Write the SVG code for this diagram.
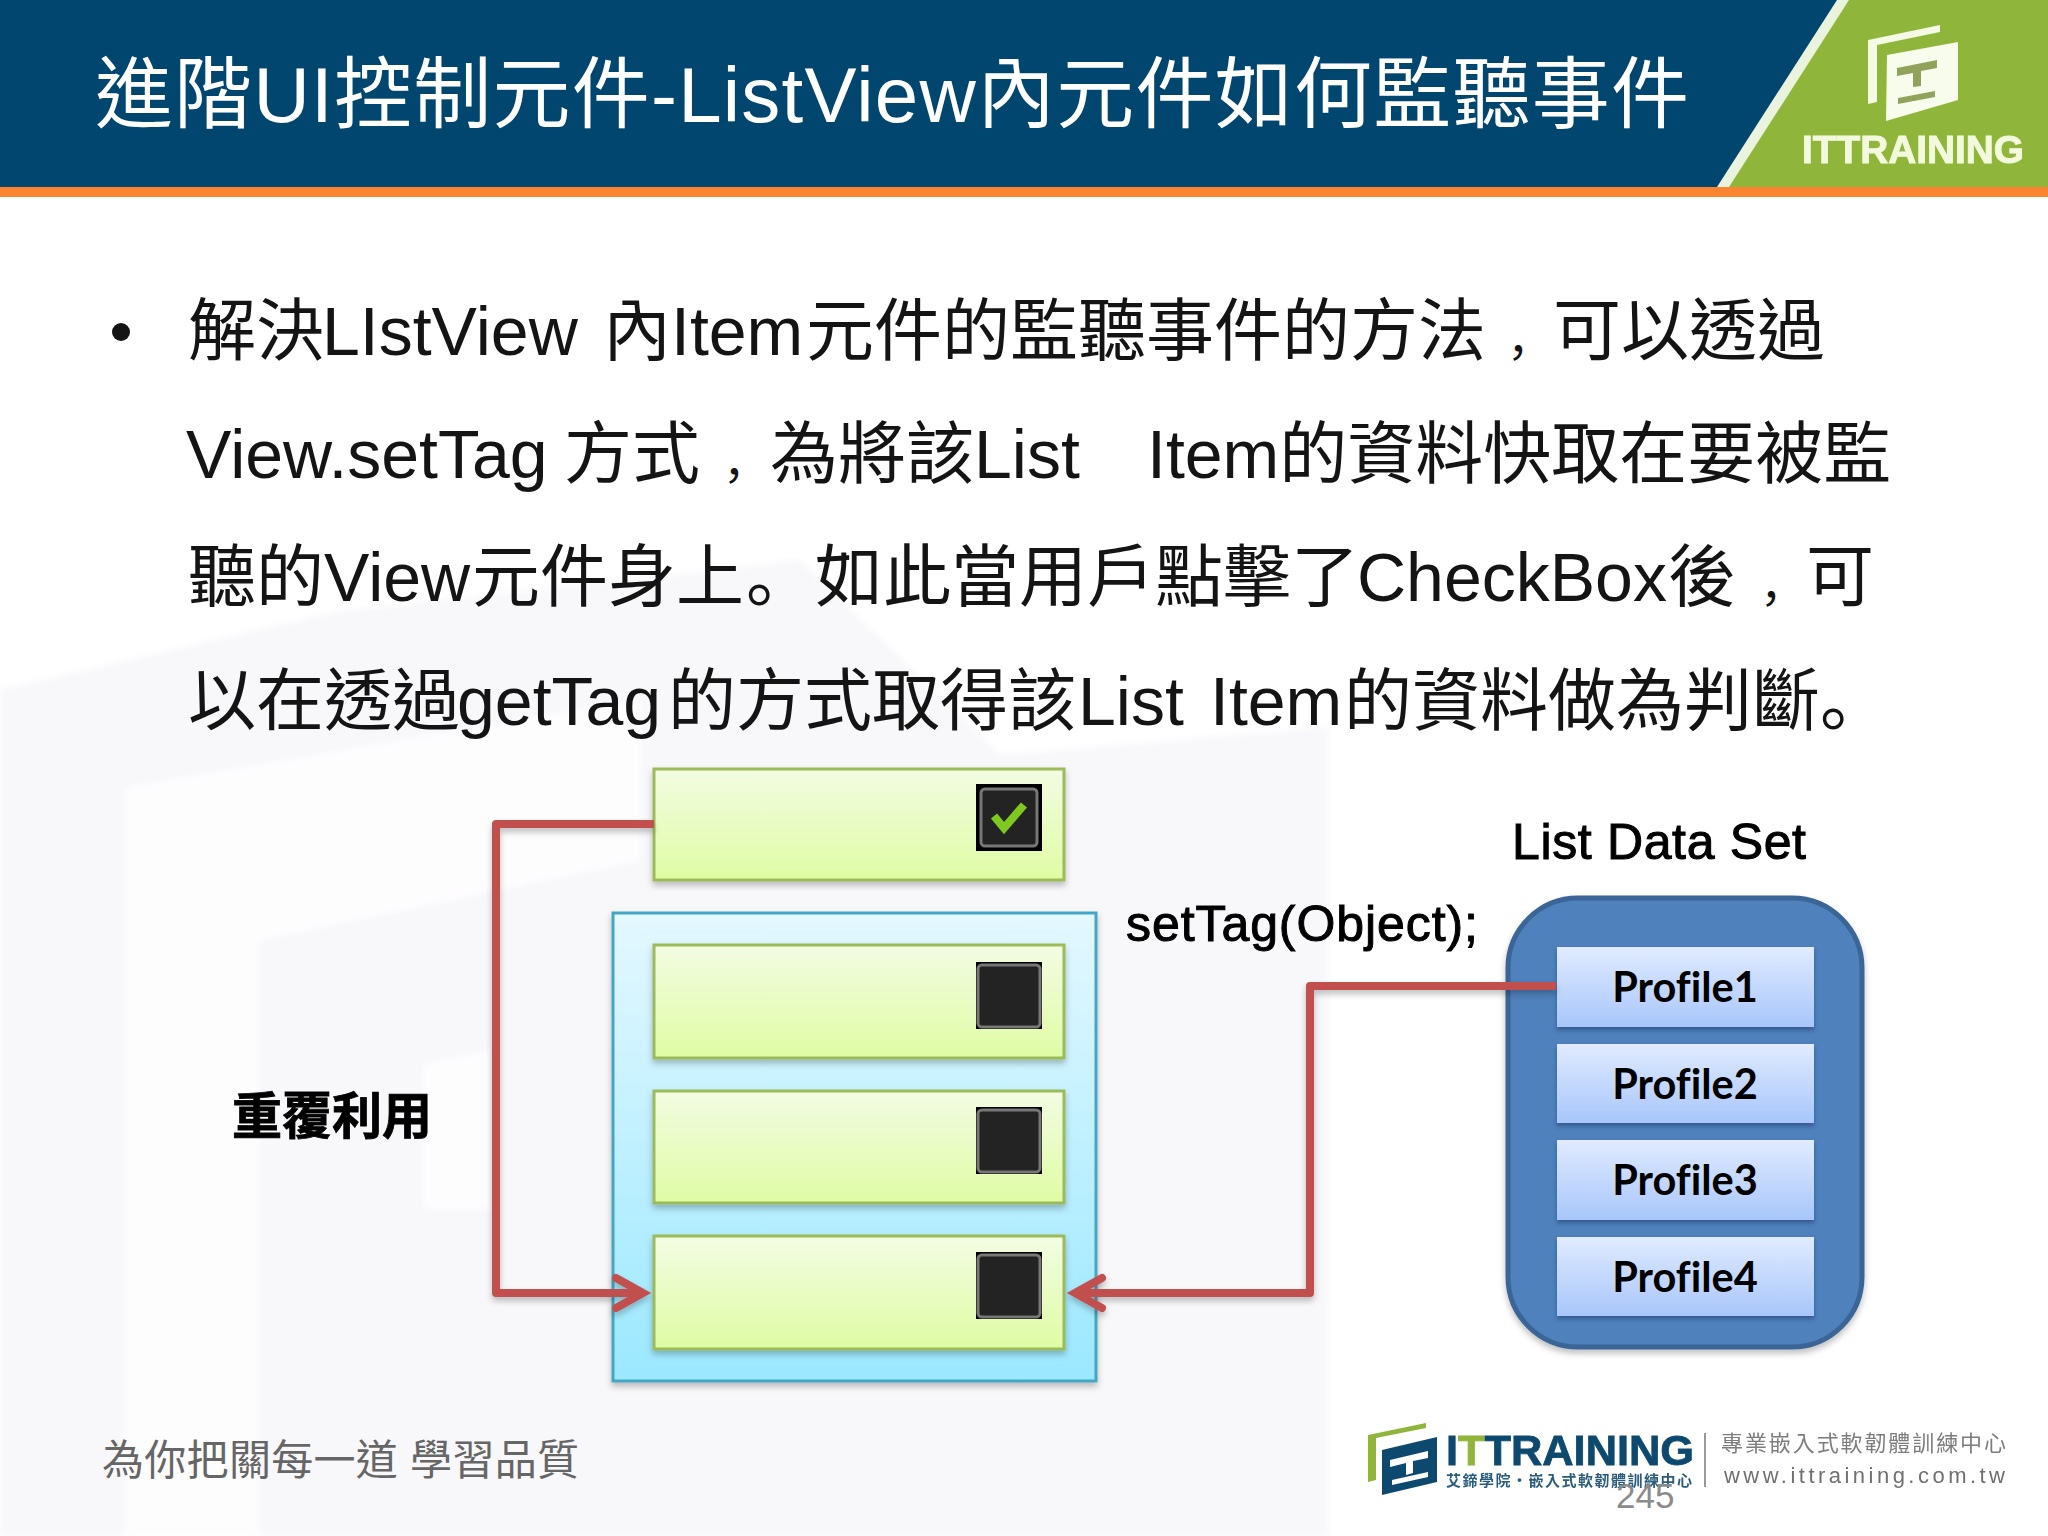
<svg xmlns="http://www.w3.org/2000/svg" width="2048" height="1536" viewBox="0 0 2048 1536">
<style>
.t{font-family:"Liberation Sans","Noto Sans CJK TC",sans-serif}
.p{font-family:"Noto Sans CJK SC",sans-serif}
.c{font-family:"Noto Sans CJK SC",sans-serif;font-size:46px}
.body{font-size:68px;fill:#141414}
.lab{font-size:50px;fill:#000}
.pf{font-family:Lato,"Liberation Sans",sans-serif;font-weight:700;font-size:41.5px;fill:#000;text-anchor:middle;font-variant-ligatures:none}
.item{fill:url(#gi);stroke:#9bbb59;stroke-width:3;filter:url(#sh)}
.pr{fill:url(#gp);filter:url(#sh2)}
.cb{fill:#000}
.cbi{fill:#232323;stroke:#777;stroke-width:3}
.red{fill:none;stroke:#c0504d;stroke-width:8;stroke-linejoin:round;stroke-linecap:butt}
</style>
<defs>
<linearGradient id="gi" x1="0" y1="0" x2="0" y2="1"><stop offset="0" stop-color="#f3fce3"/><stop offset="1" stop-color="#dffca4"/></linearGradient>
<linearGradient id="gb" x1="0" y1="0" x2="0" y2="1"><stop offset="0" stop-color="#e4f8ff"/><stop offset="1" stop-color="#9be8ff"/></linearGradient>
<linearGradient id="gp" x1="0" y1="0" x2="0" y2="1"><stop offset="0" stop-color="#e0ebff"/><stop offset="1" stop-color="#a8c6fa"/></linearGradient>
<filter id="sh" x="-5%" y="-10%" width="110%" height="125%"><feDropShadow dx="0" dy="4" stdDeviation="3" flood-color="#000" flood-opacity=".25"/></filter>
<filter id="sh2" x="-5%" y="-10%" width="110%" height="125%"><feDropShadow dx="0" dy="3" stdDeviation="2" flood-color="#10305a" flood-opacity=".5"/></filter>
<filter id="soft" x="-2%" y="-2%" width="104%" height="104%"><feGaussianBlur stdDeviation="3"/></filter>
<filter id="logo" x="-5%" y="-5%" width="110%" height="110%"><feGaussianBlur stdDeviation=".7"/></filter>
<marker id="ah" viewBox="0 0 44 52" refX="32" refY="26" markerWidth="44" markerHeight="52" markerUnits="userSpaceOnUse" orient="auto"><path d="M6 11 L33 26 L6 41" fill="none" stroke="#c0504d" stroke-width="8" stroke-linecap="round" stroke-linejoin="miter" stroke-miterlimit="6"/></marker>
</defs>
<g id="background">
<rect width="2048" height="1536" fill="#fff"/>
<g filter="url(#soft)">
<path d="M0 690 L335 612 L800 560 L1000 755 L1328 727 L1328 1536 L0 1536Z" fill="#f8f7fa"/>
<path d="M125 788 L640 700 L640 860 L259 940 L259 1536 L125 1536Z" fill="#fefdfe"/>
<path d="M424 1065 L491 1050 L491 1209 L424 1209Z" fill="#fefdfe"/>
</g>
</g>
<g id="header">
<rect width="2048" height="187" fill="#00466e"/>
<polygon points="1717,187 1837,0 2048,0 2048,187" fill="#e9f3dd"/>
<polygon points="1729,187 1849,0 2048,0 2048,187" fill="#8fb63a"/>
<rect y="187" width="2048" height="10" fill="#fc8431"/>
<g filter="url(#logo)">
<polygon points="1868,40 1940,25 1940,32 1877,45 1877,102 1868,104" fill="#f4fae3"/>
<polygon points="1887,55 1958,42 1958,100 1886,121" fill="#f8fcec"/>
<polygon points="1897,68 1937,60 1937,68 1921,71 1921,86 1913,87 1913,73 1897,76" fill="#8fa35a"/>
<polygon points="1898,98 1935,91 1935,97 1898,104" fill="#8fa35a"/>
<text class="t" x="1802" y="163" font-size="39" font-weight="700" fill="#f2f9dc" stroke="#f2f9dc" stroke-width="1" textLength="222" lengthAdjust="spacingAndGlyphs">ITTRAINING</text>
</g>
<text class="t" x="95" y="122" font-size="78" fill="#fff" textLength="1594">進階UI控制元件-ListView內元件如何監聽事件</text>
</g>
<g id="content">
<circle cx="121" cy="332" r="9" fill="#141414"/>
<text class="t body" y="355"><tspan x="188">解決</tspan><tspan x="322">LIstView </tspan><tspan x="603">內Item</tspan><tspan x="806">元件的監聽事件的方法</tspan><tspan class="c" x="1507">，</tspan><tspan x="1553">可以透過</tspan></text>
<text class="t body" y="478"><tspan x="186">View.setTag</tspan><tspan x="564">方式</tspan><tspan class="c" x="723">，</tspan><tspan x="770">為將該List</tspan><tspan x="1147">Item的資料快取在要被監</tspan></text>
<text class="t body" y="601"><tspan x="188">聽的View</tspan><tspan x="472">元件身上</tspan><tspan class="p" x="746">。</tspan><tspan x="815">如此當用戶點擊了</tspan><tspan x="1357">CheckBox</tspan><tspan x="1668">後</tspan><tspan class="c" x="1760">，</tspan><tspan x="1806">可</tspan></text>
<text class="t body" y="725"><tspan x="188">以在透過</tspan><tspan x="457">getTag</tspan><tspan x="668">的方式取得該</tspan><tspan x="1078">List </tspan><tspan x="1210">Item</tspan><tspan x="1344">的資料做為判斷</tspan><tspan class="p" x="1820">。</tspan></text>
</g>
<g id="list-view"><rect x="613" y="913" width="483" height="468" fill="url(#gb)" stroke="#43a7c4" stroke-width="3" filter="url(#sh)"/></g>
<g id="item-top"><rect class="item" x="654" y="769" width="410" height="111"/><rect class="cb" x="976" y="784" width="66" height="67"/><rect class="cbi" x="981" y="789" width="56" height="57" rx="4"/><path d="M994 816 L1004 828 L1024 805" fill="none" stroke="#7ec820" stroke-width="8"/></g>
<g id="item-1"><rect class="item" x="654" y="945" width="410" height="113"/><rect class="cb" x="976" y="962" width="66" height="67"/><rect class="cbi" x="978" y="965" width="62" height="62" rx="4"/></g>
<g id="item-2"><rect class="item" x="654" y="1091" width="410" height="112"/><rect class="cb" x="976" y="1107" width="66" height="67"/><rect class="cbi" x="978" y="1110" width="62" height="62" rx="4"/></g>
<g id="item-3"><rect class="item" x="654" y="1236" width="410" height="113"/><rect class="cb" x="976" y="1252" width="66" height="67"/><rect class="cbi" x="978" y="1255" width="62" height="62" rx="4"/></g>
<g id="data-set"><rect x="1508" y="898" width="354" height="449" rx="70" fill="#4f81bd" stroke="#3a6596" stroke-width="5" filter="url(#sh)"/></g>
<g id="profile1"><rect class="pr" x="1557" y="947" width="257" height="80"/><text class="pf" x="1685" y="1002">Profile1</text></g>
<g id="profile2"><rect class="pr" x="1557" y="1044" width="257" height="79"/><text class="pf" x="1685" y="1099">Profile2</text></g>
<g id="profile3"><rect class="pr" x="1557" y="1140" width="257" height="80"/><text class="pf" x="1685" y="1195">Profile3</text></g>
<g id="profile4"><rect class="pr" x="1557" y="1237" width="257" height="79"/><text class="pf" x="1685" y="1292">Profile4</text></g>
<g id="connectors" filter="url(#sh)">
<path class="red" d="M654 824 H496 V1293 H642" marker-end="url(#ah)"/>
<path class="red" d="M1556 986 H1310 V1293 H1076" marker-end="url(#ah)"/>
</g>
<g id="labels">
<text class="t lab" x="232" y="1134" font-weight="700" textLength="200" stroke="#000" stroke-width=".8">重覆利用</text>
<text class="t lab" x="1126" y="941" textLength="352" stroke="#000" stroke-width="1">setTag(Object);</text>
<text class="t lab" x="1512" y="859" textLength="294" stroke="#000" stroke-width="1">List Data Set</text>
</g>
<g id="footer">
<text class="t" x="102" y="1475" font-size="42" fill="#666" textLength="477">為你把關每一道 學習品質</text>
<g filter="url(#logo)">
<polygon points="1368,1435 1426,1423 1426,1428 1376,1438 1376,1480 1368,1482" fill="#8fb63a"/>
<polygon points="1382,1450 1437,1437 1437,1482 1382,1495" fill="#0f4a6e"/>
<polygon points="1390,1460 1428,1451 1428,1458 1413,1461 1413,1473 1406,1475 1406,1463 1390,1467" fill="#fff"/>
<polygon points="1392,1480 1428,1472 1428,1477 1392,1485" fill="#fff"/>
<text class="t" x="1446" y="1465" font-size="42" font-weight="700" fill="#0f4a6e" stroke="#0f4a6e" stroke-width=".8" textLength="248" lengthAdjust="spacingAndGlyphs">I<tspan fill="#8fb63a" stroke="#8fb63a">T</tspan>TRAINING</text>
<text class="t" x="1446" y="1486" font-size="15" font-weight="700" fill="#2b5d7c" textLength="246">艾鍗學院‧嵌入式軟韌體訓練中心</text>
<rect x="1704" y="1433" width="2" height="54" fill="#9a9a9a"/>
<text class="t" x="1721" y="1451" font-size="22" fill="#7d7d7d" textLength="285">專業嵌入式軟韌體訓練中心</text>
<text class="t" x="1724" y="1483" font-size="22" fill="#6f6f6f" textLength="281">www.ittraining.com.tw</text>
</g>
<text class="t" x="1616" y="1508" font-size="35" fill="#8b8b8b">245</text>
</g>
</svg>
